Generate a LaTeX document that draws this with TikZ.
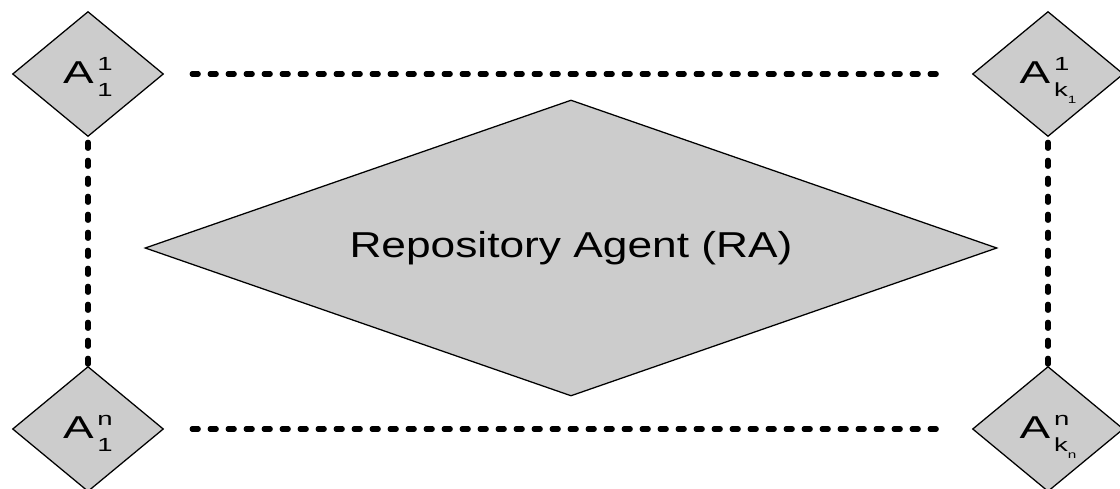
\documentclass[tikz,border=0pt]{standalone}
\usepackage{fontspec}
\usepackage{graphicx}
\setmainfont{Liberation Sans}
\usetikzlibrary{shapes.geometric,positioning}
\definecolor{agentgray}{RGB}{204,204,204}

% label of a small agent: A, upper index, lower index
\newcommand{\agentlbl}[2]{\scalebox{1.45}[1]{A\hspace{1.8pt}\rlap{\raisebox{9.5pt}{\fontsize{13.5}{14}\selectfont #1}}\raisebox{-9.5pt}{\fontsize{13.5}{14}\selectfont #2}}}
\newcommand{\kidx}[1]{k\raisebox{-4.3pt}{\fontsize{7.5}{8}\selectfont #1}}

\begin{document}
\begin{tikzpicture}[x=0.025cm,y=-0.025cm]
		\tikzset{
			agent/.style={
					diamond, draw, line width=0.9pt, fill=agentgray,
					shape aspect=1.2, inner sep=0pt,
					minimum width=151*0.025cm, minimum height=125*0.025cm,
					font=\fontsize{22.5}{23}\selectfont,
					text height=14.5pt, text depth=0.8pt,
				},
			repo/.style={
					diamond, draw, line width=0.9pt, fill=agentgray,
					shape aspect=2.88, inner sep=0pt,
					minimum width=852*0.025cm, minimum height=296*0.025cm,
					font=\fontsize{25.6}{30}\selectfont,
				},
			dotline/.style={
					line width=3.6pt, line cap=round,
					dash pattern=on 4.4pt off 8.4pt,
				},
		}
		\useasboundingbox (0,0) rectangle (1120,488);
		%
		\node[repo] (ra) at (571,248) {\scalebox{1.23}[1]{Repository Agent (RA)}};
		\node[agent] (a11) at (88,74) {\agentlbl{1}{1}};
		\node[agent] (a1k) at (1048,74) {\agentlbl{1}{\kidx{1}}};
		\node[agent] (an1) at (88,429) {\agentlbl{n}{1}};
		\node[agent] (ank) at (1048,429) {\agentlbl{n}{\kidx{n}}};
		%
		\draw[dotline, shorten <=19.9pt, shorten >=17.8pt] (a11) -- (a1k);
		\draw[dotline, shorten <=19.9pt, shorten >=17.8pt] (an1) -- (ank);
		\draw[dotline, shorten <=3.6pt, shorten >=1.2pt] (a11) -- (an1);
		\draw[dotline, shorten <=3.6pt, shorten >=1.2pt] (a1k) -- (ank);
	\end{tikzpicture}
\end{document}
